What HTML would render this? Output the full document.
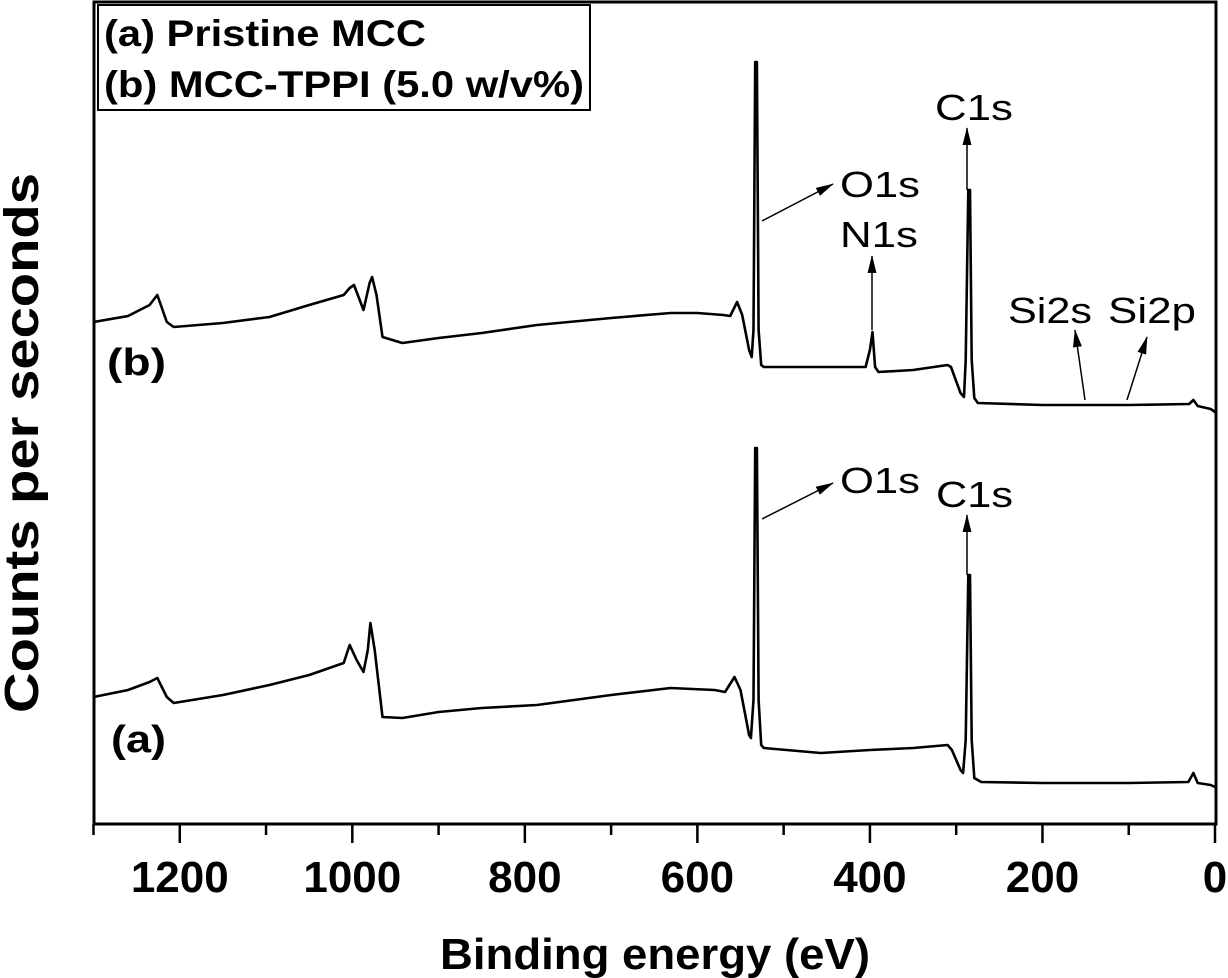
<!DOCTYPE html>
<html><head><meta charset="utf-8"><style>
html,body{margin:0;padding:0;background:#fff;}
svg{display:block;}
text{font-family:"Liberation Sans",sans-serif;fill:#000;}
</style></head><body>
<svg id="chart" width="1228" height="978" viewBox="0 0 1228 978">
<defs><marker id="ah" viewBox="0 0 20 10" refX="19" refY="5" markerWidth="12" markerHeight="6" markerUnits="strokeWidth" orient="auto"><path d="M0,0 L20,5 L0,10 Z" fill="#000"/></marker></defs>
<rect x="94" y="2" width="1122" height="822" fill="none" stroke="#000" stroke-width="3"/>
<g id="ticks"></g>
<g id="series"></g>
<text x="655" y="969" font-size="44" font-weight="bold" text-anchor="middle" textLength="430" lengthAdjust="spacingAndGlyphs">Binding energy (eV)</text>
<text transform="translate(38,443) rotate(-90)" font-size="48" font-weight="bold" text-anchor="middle" textLength="540" lengthAdjust="spacingAndGlyphs">Counts per seconds</text>
<g>
<rect x="98" y="5" width="492" height="105" fill="#fff" stroke="#000" stroke-width="2"/>
<text x="104" y="46" font-size="37" font-weight="bold" textLength="322" lengthAdjust="spacingAndGlyphs">(a) Pristine MCC</text>
<text x="104" y="97" font-size="37" font-weight="bold" textLength="480" lengthAdjust="spacingAndGlyphs">(b) MCC-TPPI (5.0 w/v%)</text>
</g>
<text x="107" y="375" font-size="38" font-weight="bold" textLength="59" lengthAdjust="spacingAndGlyphs">(b)</text>
<text x="111" y="752" font-size="38" font-weight="bold" textLength="55" lengthAdjust="spacingAndGlyphs">(a)</text>
<g font-size="36">
<text x="840" y="197" textLength="80" lengthAdjust="spacingAndGlyphs">O1s</text>
<line x1="762" y1="221" x2="833" y2="184" stroke="#000" stroke-width="1.5" marker-end="url(#ah)"/>
<text x="840" y="247" textLength="78" lengthAdjust="spacingAndGlyphs">N1s</text>
<line x1="872" y1="330" x2="872" y2="256" stroke="#000" stroke-width="1.5" marker-end="url(#ah)"/>
<text x="935" y="120" textLength="78" lengthAdjust="spacingAndGlyphs">C1s</text>
<line x1="967" y1="190" x2="967" y2="128" stroke="#000" stroke-width="1.5" marker-end="url(#ah)"/>
<text x="1008" y="323" textLength="84" lengthAdjust="spacingAndGlyphs">Si2s</text>
<text x="1108" y="323" textLength="88" lengthAdjust="spacingAndGlyphs">Si2p</text>
<line x1="1085" y1="400" x2="1075" y2="330" stroke="#000" stroke-width="1.5" marker-end="url(#ah)"/>
<line x1="1127" y1="400" x2="1147" y2="337" stroke="#000" stroke-width="1.5" marker-end="url(#ah)"/>
<text x="840" y="493" textLength="80" lengthAdjust="spacingAndGlyphs">O1s</text>
<line x1="762" y1="519" x2="833" y2="483" stroke="#000" stroke-width="1.5" marker-end="url(#ah)"/>
<text x="936" y="507" textLength="77" lengthAdjust="spacingAndGlyphs">C1s</text>
<line x1="967" y1="575" x2="967" y2="515" stroke="#000" stroke-width="1.5" marker-end="url(#ah)"/>
</g>
</svg>
<script>
const xTickLabels = [1200, 1000, 800, 600, 400, 200, 0];
const energiesB = [1300,1260,1235,1226,1215,1207,1150,1096,1050,1010,1003,998,987,980,977,972,965,942,900,850,786,700,631,600,570,562,554,548,540,537,535,533,531,529,526,523,450,405,400,397,394,390,350,310,306,295,291,289,286,284,282,279,275,200,152,100,30,25,20,5,0];
const countsB = [504,510,521,531,504,499,503,509,521,531,538,541,516,543,549,531,489,483,488,493,501,508,513,513,511,510,524,511,476,469,496,764,764,496,461,459,459,459,476,494,459,454,456,461,459,433,429,466,636,636,466,428,423,421,421,421,422,426,420,417,414];
const energiesA = [1300,1260,1235,1226,1215,1207,1150,1096,1050,1010,1005,1003,995,987,982,979,974,965,942,900,850,786,700,631,580,568,557,550,540,538,535,533,531,529,526,523,457,400,350,310,305,295,292,289,286,284,282,279,271,200,100,31,25,20,5,0];
const countsA = [129,136,144,148,129,123,131,141,151,163,176,181,166,154,176,203,176,109,108,114,118,121,131,138,136,134,149,136,91,88,126,378,378,126,81,78,73,76,78,81,76,56,53,86,251,251,86,48,44,43,43,44,53,43,41,39];

const X0=93.5, X1=1215, EMAX=1300, EMIN=0;
function xs(e){return X0+(EMAX-e)/(EMAX-EMIN)*(X1-X0);}
const Y0=826, Y1=2, VMAX=824;
function ys(v){return Y0-(v/VMAX)*(Y0-Y1);}
const NS='http://www.w3.org/2000/svg';
const tg=document.getElementById('ticks');
for(let e=1300;e>=0;e-=100){
  const l=document.createElementNS(NS,'line');
  const major=e%200===0;
  l.setAttribute('x1',xs(e));l.setAttribute('x2',xs(e));
  l.setAttribute('y1',824);l.setAttribute('y2',major?843:835);
  l.setAttribute('stroke','#000');l.setAttribute('stroke-width',2.5);
  
  
  tg.appendChild(l);
}
xTickLabels.forEach(v=>{
  const t=document.createElementNS(NS,'text');
  t.setAttribute('x',xs(v));t.setAttribute('y',892);
  t.setAttribute('font-size','44');t.setAttribute('font-weight','bold');
  t.setAttribute('text-anchor','middle');
  t.textContent=v;
  
  
  tg.appendChild(t);
});
const sg=document.getElementById('series');
function draw(E,C,name){
  const p=document.createElementNS(NS,'path');
  let d='';
  E.forEach((e,i)=>{d+=(i?'L':'M')+xs(e).toFixed(1)+','+ys(C[i]).toFixed(1);});
  p.setAttribute('d',d);p.setAttribute('fill','none');p.setAttribute('stroke','#000');
  p.setAttribute('stroke-width','2.6');p.setAttribute('stroke-linejoin','round');
  
  
  sg.appendChild(p);
}
draw(energiesA,countsA,'series-a-pristine-mcc');
draw(energiesB,countsB,'series-b-mcc-tppi');
</script>
</body></html>
